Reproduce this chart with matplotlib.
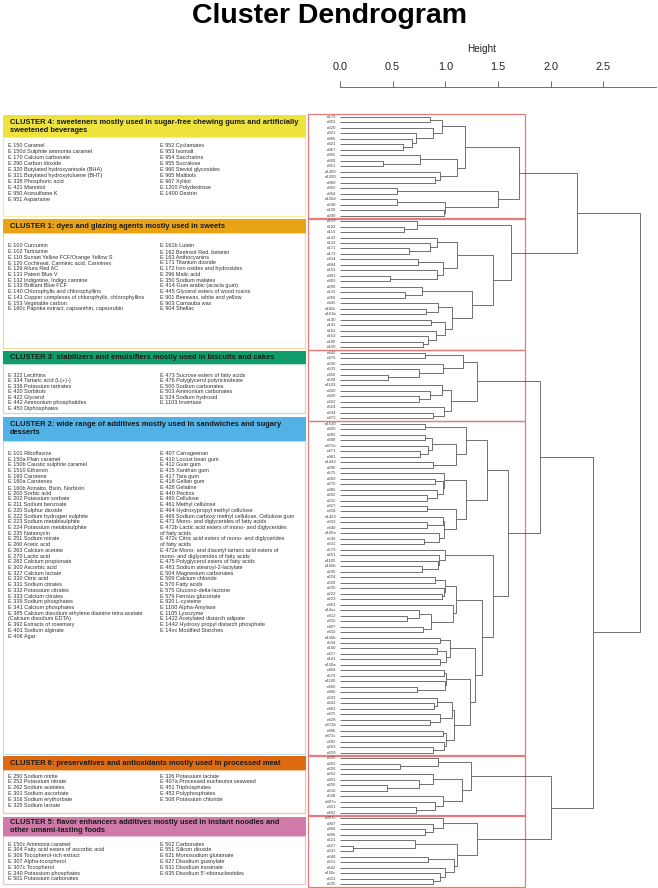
import numpy as np
import matplotlib.pyplot as plt
from matplotlib.patches import Rectangle

plt.rcParams['font.family'] = ['Liberation Sans', 'DejaVu Sans']

# ---- dendrogram data: nested merges (left, right, height), leaves are labels ----
c4_tree = (((("e170", "e953", 0.855),
             ("e320", ("e321", ("e965", ("e421", "e967", 0.60), 0.68), 0.72), 0.886), 0.97),
            (("e955", ("e950", "e951", 0.41), 0.76),
             ("e1400", ("e1200", "e960", 0.90), 0.95), 1.11), 1.19),
           (("e952", "e954", 0.54),
            (("e150d", "e338", 0.54), ("e150", "e290", 0.985), 1.0), 1.50), 1.70)

c1_tree = (("e129", ("e102", "e110", 0.61), 0.73),
           ((("e132", ("e133", ("e171", "e172", 0.66), 0.855), 0.92),
             (("e414", "e904", 0.74), ("e153", ("e901", "e903", 0.475), 0.92), 0.98), 1.11),
            (("e296", ("e131", "e350", 0.62), 0.78),
             (("e445", ("e160c", "e161b", 0.82), 0.93),
              (("e140", "e141", 0.865),
               ("e162", ("e163", ("e100", "e120", 0.785), 0.84), 0.91), 1.0), 1.06), 1.25), 1.45), 1.62)

c3_tree = ((("e442", "e476", 0.81),
            ("e336", ("e503", ("e450", "e500", 0.46), 0.75), 0.98), 1.17),
           (("e1103", ("e322", ("e420", "e422", 0.75), 0.855), 0.966),
            ("e524", ("e334", "e473", 0.886), 0.99), 1.05), 1.30)

c2_tree = (((("e1510", "e920", 0.81),
             (((("e282", "e300", 0.81), ("e472e", ("e471", "e481", 0.76), 0.84), 0.87)),
              ("e1442", "e200", 0.88), 1.10), 1.20),
            (("e575", (("e260", "e270", 0.90), ("e385", ("e202", "e211", 0.83), 0.92), 0.975), 0.99),
             (("e327", "e418", 0.83),
              (("e1422", ("e333", "e440", 0.83), 0.975),
               ("e160a", ("e330", "e331", 0.80), 0.94), 0.99), 1.10), 1.20), 1.40),
           (("e579", ("e251", ("e1105", ("e160b", "e235", 0.78), 0.93), 0.94), 1.0),
            (((("e224", "e509", 0.90), ("e220", ("e222", "e223", 0.966), 0.99), 1.0),
              ("e461", (("e14xx", ("e412", "e415", 0.64), 0.75), ("e407", "e410", 0.79), 0.86), 1.07), 1.10),
             ((("e150b", "e504", 0.95), (("e160", "e417", 0.92), ("e101", "e150a", 0.95), 1.01), 1.045),
              ((("e464", "e570", 0.99), ("e1100", ("e460", "e466", 0.73), 1.0), 1.01),
               ((("e332", ("e341", "e401", 0.89), 0.92), ("e475", ("e428", "e472b", 0.85), 0.95), 1.06),
                (("e406", "e472c", 0.975), ("e392", ("e263", "e339", 0.886), 0.99), 1.01), 1.08), 1.235),
              1.28), 1.35), 1.45), 1.60)

c6_tree = (("e325", ("e262", "e326", 0.57), 0.93),
           (("e252", ("e301", ("e250", "e316", 0.45), 0.75), 0.886),
            ("e508", ("e407a", ("e451", "e452", 0.72), 0.90), 0.975), 1.155), 1.24)

c5_tree = (("e307c", ("e307", ("e304", "e306", 0.81), 0.886), 0.975),
           (("e621", ("e627", "e631", 0.12), 0.71),
            (("e340", "e551", 0.84),
             ("e502", ("e150c", ("e501", "e635", 0.88), 0.95), 1.0), 1.08), 1.11), 1.30)

full_tree = ((c4_tree, c1_tree, 2.25),
             ((c3_tree, c2_tree, 1.90), (c6_tree, c5_tree, 2.00), 2.40), 2.85)
cluster_trees = [c4_tree, c1_tree, c3_tree, c2_tree, c6_tree, c5_tree]
cut_height = 1.76

# ---- side panel: cluster descriptions ----
c4_title = ["CLUSTER 4: sweeteners mostly used in sugar-free chewing gums and artificially",
            "sweetened beverages"]
c4_left = ["E 150 Caramel", "E 150d Sulphite ammonia caramel", "E 170 Calcium carbonate",
           "E 290 Carbon dioxide", "E 320 Butylated hydroxyanisole (BHA)",
           "E 321 Butylated hydroxytoluene (BHT)", "E 338 Phosphoric acid", "E 421 Mannitol",
           "E 950 Acesulfame K", "E 951 Aspartame"]
c4_right = ["E 952 Cyclamates", "E 953 Isomalt", "E 954 Saccharins", "E 955 Sucralose",
            "E 960 Steviol glycosides", "E 965 Maltitols", "E 967 Xylitol",
            "E 1200 Polydextrose", "E 1400 Dextrin"]

c1_title = ["CLUSTER 1: dyes and glazing agents mostly used in sweets"]
c1_left = ["E 100 Curcumin", "E 102 Tartrazine", "E 110 Sunset Yellow FCF/Orange Yellow S",
           "E 120 Cochineal, Carminic acid, Carmines", "E 129 Allura Red AC", "E 131 Patent Blue V",
           "E 132 Indigotine, Indigo carmine", "E 133 Brilliant Blue FCF",
           "E 140 Chlorophylls and chlorophyllins",
           "E 141 Copper complexes of chlorophylls, chlorophyllins", "E 153 Vegetable carbon",
           "E 160c Paprika extract, capsanthin, capsorubin"]
c1_right = ["E 161b Lutein", "E 162 Beetroot Red, betanin", "E 163 Anthocyanins",
            "E 171 Titanium dioxide", "E 172 Iron oxides and hydroxides", "E 296 Malic acid",
            "E 350 Sodium malates", "E 414 Gum arabic (acacia gum)",
            "E 445 Glycerol esters of wood rosins", "E 901 Beeswax, white and yellow",
            "E 903 Carnauba wax", "E 904 Shellac"]

c3_title = ["CLUSTER 3: stabilizers and emulsifiers mostly used in biscuits and cakes"]
c3_left = ["E 322 Lecithins", "E 334 Tartaric acid (L(+)-)", "E 336 Potassium tartrates",
           "E 420 Sorbitols", "E 422 Glycerol", "E 442 Ammonium phosphatides", "E 450 Diphosphates"]
c3_right = ["E 473 Sucrose esters of fatty acids", "E 476 Polyglycerol polyricinoleate",
            "E 500 Sodium carbonates", "E 503 Ammonium carbonates", "E 524 Sodium hydroxid",
            "E 1103 Invertase"]

c2_title = ["CLUSTER 2: wide range of additives mostly used in sandwiches and sugary",
            "desserts"]
c2_left = ["E 101 Riboflavins", "E 150a Plain caramel", "E 150b Caustic sulphite caramel",
           "E 1510 Ethanon", "E 160 Carotene", "E 160a Carotenes", "E 160b Annatto, Bixin, Norbixin",
           "E 200 Sorbic acid", "E 202 Potassium sorbate", "E 211 Sodium benzoate",
           "E 220 Sulphur dioxide", "E 222 Sodium hydrogen sulphite", "E 223 Sodium metabisulphite",
           "E 224 Potassium metabisulphite", "E 235 Natamycin", "E 251 Sodium nitrate",
           "E 260 Acetic acid", "E 263 Calcium acetate", "E 270 Lactic acid",
           "E 282 Calcium propionate", "E 300 Ascorbic acid", "E 327 Calcium lactate",
           "E 330 Citric acid", "E 331 Sodium citrates", "E 332 Potassium citrates",
           "E 333 Calcium citrates", "E 339 Sodium phosphates", "E 341 Calcium phosphates",
           "E 385 Calcium disodium ethylene diamine tetra-acetate", "(Calcium disodium EDTA)",
           "E 392 Extracts of rosemary", "E 401 Sodium alginate", "E 406 Agar"]
c2_right = ["E 407 Carrageenan", "E 410 Locust bean gum", "E 412 Guar gum", "E 415 Xanthan gum",
            "E 417 Tara gum", "E 418 Gellan gum", "E 428 Gelatine", "E 440 Pectins",
            "E 460 Cellulose", "E 461 Methyl cellulose", "E 464 Hydroxypropyl methyl cellulose",
            "E 466 Sodium carboxy methyl cellulose, Cellulose gum",
            "E 471 Mono- and diglycerides of fatty acids",
            "E 472b Lactic acid esters of mono- and diglycerides", "of fatty acids",
            "E 472c Citric acid esters of mono- and diglycerides", "of fatty acids",
            "E 472e Mono- and diacetyl tartaric acid esters of",
            "mono- and diglycerides of fatty acids",
            "E 475 Polyglycerol esters of fatty acids", "E 481 Sodium stearoyl-2-lactylate",
            "E 504 Magnesium carbonates", "E 509 Calcium chloride", "E 570 Fatty acids",
            "E 575 Glucono-delta-lactone", "E 579 Ferrous gluconate", "E 920 L-cysteine",
            "E 1100 Alpha-Amylase", "E 1105 Lysozyme", "E 1422 Acetylated distarch adipate",
            "E 1442 Hydroxy propyl distarch phosphate", "E 14xx Modified Starches"]

c6_title = ["CLUSTER 6: preservatives and antioxidants mostly used in processed meat"]
c6_left = ["E 250 Sodium nitrite", "E 252 Potassium nitrate", "E 262 Sodium acetates",
           "E 301 Sodium ascorbate", "E 316 Sodium erythorbate", "E 325 Sodium lactate"]
c6_right = ["E 326 Potassium lactate", "E 407a Processed eucheuma seaweed", "E 451 Triphosphates",
            "E 452 Polyphosphates", "E 508 Potassium chloride"]

c5_title = ["CLUSTER 5: flavor enhancers additives mostly used in instant noodles and",
            "other umami-tasting foods"]
c5_left = ["E 150c Ammonia caramel", "E 304 Fatty acid esters of ascorbic acid",
           "E 306 Tocopherol-rich extract", "E 307 Alpha-tocopherol", "E 307c Tocopherol",
           "E 340 Potassium phosphates", "E 501 Potassium carbonates"]
c5_right = ["E 502 Carbonates", "E 551 Silicon dioxide", "E 621 Monosodium glutamate",
            "E 627 Disodium guanylate", "E 631 Disodium inosinate", "E 635 Disodium 5'-ribonucleotides"]

# panel boxes in pixels: header top, header bottom, body bottom, title line ys, first item y, row step
panels = [
    (c4_title, c4_left, c4_right, '#EEE23C', '#F5EDA6', 115, 137, 216, [123, 130.5], 145.7, 5.96),
    (c1_title, c1_left, c1_right, '#E8A317', '#F2D7A2', 219, 233, 348, [226.7], 245.7, 5.75),
    (c3_title, c3_left, c3_right, '#0F9D6C', '#B9DFD1', 351, 364, 413, [357.7], 375.0, 5.55),
    (c2_title, c2_left, c2_right, '#52B2E5', '#BFDDF0', 417, 441, 754, [424.5, 432], 453.3, 5.71),
    (c6_title, c6_left, c6_right, '#DE6B12', '#F1C7A6', 756, 770, 813, [763], 776.0, 5.8),
    (c5_title, c5_left, c5_right, '#D07AAA', '#EBC4D8', 817, 836, 884, [822.5, 830], 844.0, 5.83),
]

W, H = 658, 888
fig = plt.figure(figsize=(W / 100, H / 100), dpi=100)

# side panel drawn in pixel coordinates
ax0 = fig.add_axes([0, 0, 1, 1])
ax0.set_xlim(0, W)
ax0.set_ylim(H, 0)
ax0.axis('off')
for title, left, right, col, light, top, hbot, bbot, tys, y0, step in panels:
    ax0.add_patch(Rectangle((3, hbot), 302, bbot - hbot, facecolor='white',
                            edgecolor=light, lw=0.9))
    ax0.add_patch(Rectangle((3, top), 303, hbot - top, facecolor=col, edgecolor='none'))
    for ty, t in zip(tys, title):
        ax0.text(10, ty, t, fontsize=5.4, fontweight='bold', va='center', ha='left',
                 color='#1a1a1a')
    for i, s in enumerate(left):
        ax0.text(7.5, y0 + i * step, s, fontsize=4.0, va='center', ha='left', color='#333333')
    for i, s in enumerate(right):
        ax0.text(160.5, y0 + i * step, s, fontsize=4.0, va='center', ha='left', color='#333333')

fig.text(0.5, 1 - 23 / H, "Cluster Dendrogram", fontsize=20.5, fontweight='bold',
         ha='center', va='baseline')

# dendrogram axes: height scale 105.3 px per unit, zero at x=340 px; leaves 5.479 px apart from y=117
px_unit, x0, y_first, y_step = 105.3, 340, 117, 5.479
ax = fig.add_axes([305 / W, 0, (W - 305) / W, (H - 87) / H])
ax.set_facecolor('none')
ax.set_xlim((305 - x0) / px_unit, (W - x0) / px_unit)
ax.set_ylim((H - y_first) / y_step, (87 - y_first) / y_step)

line_kw = dict(color='#4a4a4a', lw=0.55, solid_capstyle='butt')
counter = [0]


def draw(node):
    if isinstance(node, str):
        y = counter[0]
        counter[0] += 1
        ax.text(-0.035, y, node, fontsize=3.1, ha='right', va='center', color='#444444')
        return y, 0.0
    left, right, h = node
    y1, h1 = draw(left)
    y2, h2 = draw(right)
    ax.plot([h1, h, h, h2], [y1, y1, y2, y2], **line_kw)
    return (y1 + y2) / 2, h


def n_leaves(node):
    if isinstance(node, str):
        return 1
    return n_leaves(node[0]) + n_leaves(node[1])


draw(full_tree)

start = 0
for t in cluster_trees:
    n = n_leaves(t)
    ax.add_patch(Rectangle((-0.304, start - 0.55), cut_height + 0.304, n + 0.1,
                           facecolor='none', edgecolor='#E77A7A', lw=0.9))
    start += n

for s in ['left', 'right', 'bottom']:
    ax.spines[s].set_visible(False)
ax.spines['top'].set_bounds(0, 3.0)
ax.spines['top'].set_color('#555555')
ax.spines['top'].set_linewidth(0.6)
ax.xaxis.tick_top()
ax.xaxis.set_label_position('top')
ax.set_xticks([0, 0.5, 1.0, 1.5, 2.0, 2.5])
ax.set_xticklabels(['0.0', '0.5', '1.0', '1.5', '2.0', '2.5'])
ax.tick_params(axis='x', direction='out', length=4, width=0.6, color='#555555',
               labelsize=7.8, pad=7, labelcolor='#222222')
ax.set_xlabel("Height", fontsize=7.2, labelpad=7, color='#222222')
ax.set_yticks([])

fig.savefig('out.png', dpi=100)
